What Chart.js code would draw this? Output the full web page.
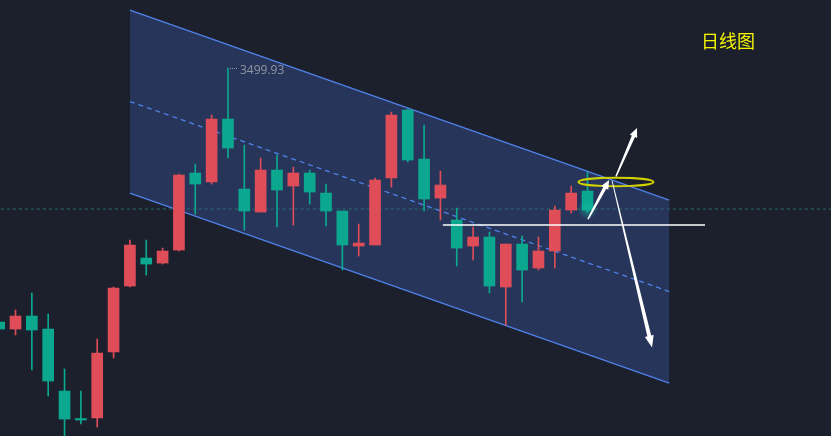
<!DOCTYPE html>
<html>
<head>
<meta charset="utf-8">
<script src="https://cdn.jsdelivr.net/npm/chart.js@4.4.0/dist/chart.umd.min.js"></script>
<style>
  html, body { margin: 0; padding: 0; background: #1b202c; overflow: hidden; }
  #wrap { width: 831px; height: 436px; }
  canvas { display: block; }
</style>
</head>
<body>
<div id="wrap"><canvas id="kline" width="831" height="436"></canvas></div>
<script>
// Daily session index (candle slot) and OHLC prices
const sessions = [-1, 0, 1, 2, 3, 4, 5, 6, 7, 8, 9, 10, 11, 12, 13, 14, 15, 16, 17,
                  18, 19, 20, 21, 22, 23, 24, 25, 26, 27, 28, 29, 30, 31, 32, 33, 34, 35];
const opens  = [3296.7, 3291.1, 3301.5, 3291.1, 3241.5, 3219.1, 3219.9, 3272.7, 3325.5, 3347.9,
                3343.9, 3354.3, 3415.9, 3408.7, 3459.1, 3403.1, 3384.7, 3418.3, 3405.5, 3415.9,
                3399.9, 3385.5, 3357.5, 3358.3, 3411.9, 3466.3, 3427.1, 3395.9, 3378.3, 3357.5,
                3364.7, 3324.7, 3359.1, 3339.9, 3353.5, 3386.3, 3401.5];
const highs  = [3299.9, 3306.3, 3319.9, 3303.1, 3259.1, 3241.5, 3283.1, 3324.7, 3362.3, 3362.3,
                3355.9, 3415.1, 3423.1, 3462.3, 3499.93, 3438.3, 3427.9, 3430.3, 3420.7, 3418.3,
                3407.1, 3385.5, 3375.1, 3411.9, 3464.7, 3467.1, 3454.3, 3417.5, 3387.9, 3372.7,
                3368.7, 3359.1, 3365.5, 3364.7, 3389.5, 3405.5, 3416.7];
const lows   = [3288.5, 3286.3, 3258.3, 3237.5, 3203.0, 3215.1, 3212.7, 3267.9, 3324.7, 3334.3,
                3343.1, 3353.5, 3383.1, 3407.1, 3427.9, 3370.3, 3384.7, 3372.7, 3374.3, 3391.1,
                3373.5, 3338.3, 3349.5, 3358.3, 3404.7, 3424.7, 3385.5, 3378.3, 3341.5, 3346.3,
                3319.9, 3294.3, 3312.7, 3338.3, 3339.9, 3383.9, 3384.7];
const closes = [3291.1, 3301.5, 3290.3, 3249.5, 3219.1, 3218.3, 3271.9, 3323.9, 3358.3, 3343.1,
                3353.5, 3414.3, 3407.1, 3459.1, 3435.9, 3385.5, 3418.3, 3402.3, 3415.9, 3400.7,
                3385.5, 3358.3, 3359.9, 3410.3, 3462.3, 3426.3, 3395.1, 3406.3, 3355.9, 3364.7,
                3325.5, 3359.1, 3338.3, 3353.5, 3386.3, 3399.9, 3386.3];

// Descending price channel (start / end session and prices)
const channelX     = [7, 40];
const channelUpper = [3546.3, 3394.3];
const channelMid   = [3473.1, 3321.1];
const channelLower = [3399.9, 3247.9];

// Last price line and support line
const lastPrice   = 3387.1;
const supportX    = [26.15, 42.19];
const supportLevel = 3374.3;

// Marked peak
const peakSession = 13;
const peakLabel   = '3499.93';

// Annotations: breakout circle and scenario arrows [x1, y1, x2, y2]
const circleAt   = [36.74, 3408.7];
const arrowBreak = [35.03, 3379.1, 36.32, 3410.3];
const arrowUp    = [36.74, 3413.1, 38.03, 3451.9];
const arrowDown  = [36.50, 3409.9, 38.95, 3276.3];

const UP = '#df4d59';
const DOWN = '#0ba88f';
const candleColors = sessions.map((s, i) => closes[i] >= opens[i] ? UP : DOWN);

function drawArrow(ctx, x1, y1, x2, y2, w1, w2, hl, hw) {
  const ang = Math.atan2(y2 - y1, x2 - x1);
  const len = Math.hypot(x2 - x1, y2 - y1);
  ctx.save();
  ctx.translate(x1, y1);
  ctx.rotate(ang);
  ctx.beginPath();
  ctx.moveTo(0, -w1 / 2);
  ctx.lineTo(len - hl, -w2 / 2);
  ctx.lineTo(len - hl, -hw / 2);
  ctx.lineTo(len, 0);
  ctx.lineTo(len - hl, hw / 2);
  ctx.lineTo(len - hl, w2 / 2);
  ctx.lineTo(0, w1 / 2);
  ctx.closePath();
  ctx.fillStyle = '#ffffff';
  ctx.fill();
  ctx.restore();
}

const overlay = {
  id: 'overlay',
  afterDatasetsDraw(chart) {
    const ctx = chart.ctx;
    const xs = chart.scales.x, ys = chart.scales.y;
    const X = v => xs.getPixelForValue(v);
    const Y = v => ys.getPixelForValue(v);

    // glow under the latest candle
    const last = sessions.length - 1;
    const gx = X(sessions[last]), gy = Y(lows[last]) - 2;
    const g = ctx.createRadialGradient(gx, gy, 0, gx, gy, 10);
    g.addColorStop(0, 'rgba(20,190,160,0.55)');
    g.addColorStop(1, 'rgba(20,190,160,0)');
    ctx.fillStyle = g;
    ctx.beginPath();
    ctx.arc(gx, gy, 10, 0, Math.PI * 2);
    ctx.fill();

    // peak label with dotted leader
    const px = X(peakSession), py = Y(highs[sessions.indexOf(peakSession)]);
    ctx.save();
    ctx.fillStyle = '#9096a0';
    for (let dx = 2; dx <= 9; dx += 2) ctx.fillRect(Math.round(px + dx), Math.round(py), 1, 1);
    ctx.font = '12px "Open Sans", sans-serif';
    ctx.textBaseline = 'middle';
    ctx.textAlign = 'left';
    ctx.fillText(peakLabel, px + 12, py + 3);
    ctx.restore();

    // breakout circle
    ctx.save();
    ctx.strokeStyle = '#d2d200';
    ctx.lineWidth = 2;
    ctx.beginPath();
    ctx.ellipse(X(circleAt[0]), Y(circleAt[1]), 37.5, 4.2, 0, 0, Math.PI * 2);
    ctx.stroke();
    ctx.restore();

    // scenario arrows
    drawArrow(ctx, X(arrowBreak[0]), Y(arrowBreak[1]), X(arrowBreak[2]), Y(arrowBreak[3]), 1.5, 3.5, 9, 8);
    drawArrow(ctx, X(arrowUp[0]), Y(arrowUp[1]), X(arrowUp[2]), Y(arrowUp[3]), 1.5, 3.5, 9, 8);
    drawArrow(ctx, X(arrowDown[0]), Y(arrowDown[1]), X(arrowDown[2]), Y(arrowDown[3]), 0.8, 4, 12, 9);

    // title
    ctx.save();
    ctx.fillStyle = '#f4f400';
    ctx.font = '18px "Noto Sans CJK SC", sans-serif';
    ctx.textBaseline = 'middle';
    ctx.textAlign = 'left';
    ctx.fillText('日线图', 701, 41);
    ctx.restore();
  }
};

new Chart(document.getElementById('kline'), {
  type: 'bar',
  data: {
    datasets: [
      {
        type: 'line',
        data: channelX.map((x, i) => ({ x, y: channelUpper[i] })),
        borderColor: '#5082ea',
        borderWidth: 1.3,
        backgroundColor: '#27355a',
        fill: '+1',
        pointRadius: 0,
        order: 10
      },
      {
        type: 'line',
        data: channelX.map((x, i) => ({ x, y: channelLower[i] })),
        borderColor: '#5082ea',
        borderWidth: 1.3,
        fill: false,
        pointRadius: 0,
        order: 9
      },
      {
        type: 'line',
        data: channelX.map((x, i) => ({ x, y: channelMid[i] })),
        borderColor: '#5082ea',
        borderWidth: 1.3,
        borderDash: [5, 4],
        fill: false,
        pointRadius: 0,
        order: 8
      },
      {
        type: 'line',
        data: [{ x: -2, y: lastPrice }, { x: 52, y: lastPrice }],
        borderColor: '#2c6e70',
        borderWidth: 1,
        borderDash: [3, 3],
        fill: false,
        pointRadius: 0,
        order: 7
      },
      {
        data: sessions.map((s, i) => ({ x: s, y: [lows[i], highs[i]] })),
        backgroundColor: candleColors,
        barThickness: 1,
        grouped: false,
        order: 3
      },
      {
        data: sessions.map((s, i) => ({ x: s, y: [opens[i], closes[i]] })),
        backgroundColor: candleColors,
        barThickness: 11,
        minBarLength: 1.5,
        grouped: false,
        order: 2
      },
      {
        type: 'line',
        data: supportX.map(x => ({ x, y: supportLevel })),
        borderColor: '#ffffff',
        borderWidth: 1.5,
        fill: false,
        pointRadius: 0,
        order: 1
      }
    ]
  },
  options: {
    responsive: false,
    devicePixelRatio: 1,
    animation: false,
    layout: { padding: 0 },
    plugins: { legend: { display: false }, tooltip: { enabled: false } },
    scales: {
      x: { type: 'linear', display: false, offset: false, min: -0.9486, max: 49.899 },
      y: { type: 'linear', display: false, min: 3205.53, max: 3554.33 }
    }
  },
  plugins: [overlay]
});
</script>
</body>
</html>
